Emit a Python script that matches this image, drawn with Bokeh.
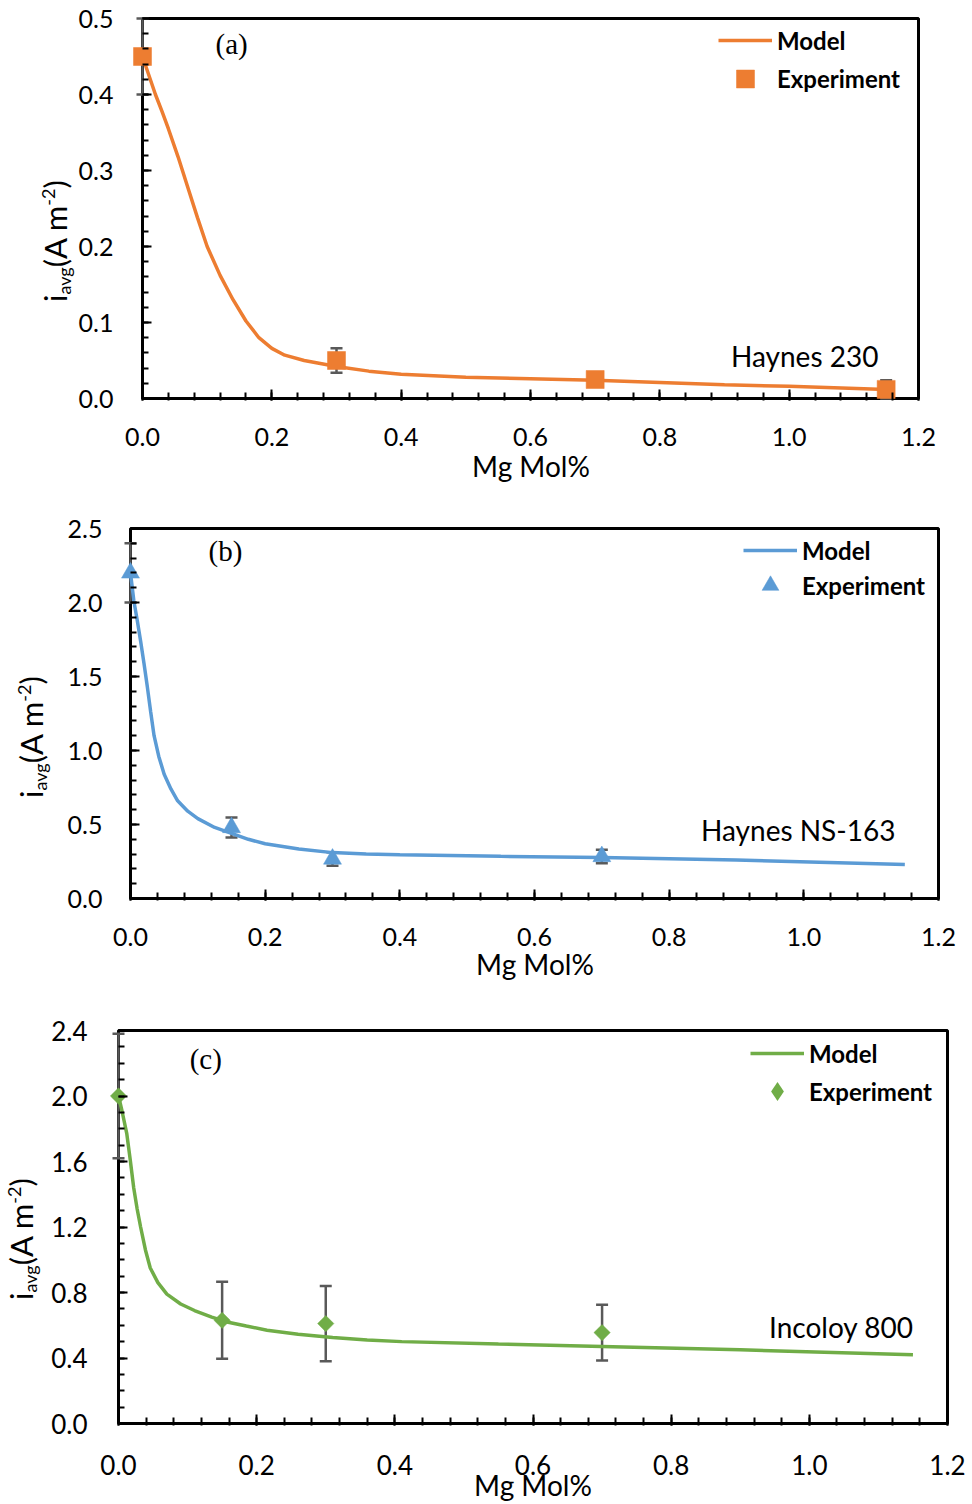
import math
import numpy as np
from bokeh.plotting import figure
from bokeh.models import (Range1d, FixedTicker, NumeralTickFormatter, Whisker, TeeHead,
                          ColumnDataSource, BoxAnnotation, Label, Legend, LegendItem,
                          LinearAxis, CustomJSTickFormatter, Div)
from bokeh.embed import file_html
from bokeh.resources import INLINE

# ---------------- data ----------------
x_ticks = [0.0, 0.2, 0.4, 0.6, 0.8, 1.0, 1.2]
x_minor = [round(v, 2) for v in np.arange(0, 1.2001, 0.04)]

# (a) Haynes 230
a_exp_x = [0.0, 0.3, 0.7, 1.15]
a_exp_y = [0.45, 0.05, 0.025, 0.012]
a_exp_err = [0.05, 0.016, 0.004, 0.012]
a_model_x = [0.0, 0.01, 0.02, 0.03, 0.04, 0.055, 0.07, 0.085, 0.10, 0.12, 0.14, 0.16, 0.18, 0.20,
             0.22, 0.25, 0.30, 0.35, 0.40, 0.50, 0.60, 0.70, 0.80, 0.90, 1.00, 1.15]
a_model_y = [0.45, 0.425, 0.40, 0.378, 0.355, 0.318, 0.278, 0.238, 0.20, 0.162, 0.13, 0.102, 0.08,
             0.066, 0.057, 0.05, 0.042, 0.036, 0.032, 0.028, 0.026, 0.024, 0.021, 0.018, 0.016, 0.012]
a_y_ticks = [0.0, 0.1, 0.2, 0.3, 0.4, 0.5]
a_y_minor = [round(v, 2) for v in np.arange(0, 0.5001, 0.02)]

# (b) Haynes NS-163
b_exp_x = [0.0, 0.15, 0.3, 0.7]
b_exp_y = [2.2, 0.48, 0.267, 0.284]
b_exp_err = [0.2, 0.067, 0.045, 0.046]
b_model_x = [0.0, 0.005, 0.01, 0.015, 0.02, 0.025, 0.03, 0.035, 0.042, 0.05, 0.06, 0.07, 0.085,
             0.10, 0.125, 0.15, 0.175, 0.20, 0.25, 0.30, 0.35, 0.40, 0.55, 0.70, 0.90, 1.15]
b_model_y = [2.2, 2.01, 1.88, 1.74, 1.59, 1.43, 1.26, 1.10, 0.96, 0.84, 0.74, 0.66, 0.59,
             0.54, 0.48, 0.44, 0.40, 0.37, 0.335, 0.31, 0.30, 0.295, 0.285, 0.277, 0.26, 0.23]
b_y_ticks = [0.0, 0.5, 1.0, 1.5, 2.0, 2.5]
b_y_minor = [round(v, 2) for v in np.arange(0, 2.5001, 0.1)]

# (c) Incoloy 800
c_exp_x = [0.0, 0.15, 0.3, 0.7]
c_exp_y = [2.0, 0.63, 0.61, 0.555]
c_exp_err = [0.38, 0.235, 0.23, 0.17]
c_model_x = [0.0, 0.005, 0.012, 0.017, 0.022, 0.027, 0.032, 0.039, 0.046, 0.057, 0.07, 0.09,
             0.11, 0.135, 0.157, 0.185, 0.215, 0.26, 0.31, 0.36, 0.41, 0.55, 0.70, 0.90, 1.15]
c_model_y = [2.0, 1.91, 1.77, 1.61, 1.44, 1.31, 1.20, 1.06, 0.95, 0.86, 0.79, 0.73,
             0.69, 0.65, 0.62, 0.595, 0.57, 0.545, 0.525, 0.51, 0.50, 0.485, 0.47, 0.45, 0.42]
c_y_ticks = [0.0, 0.4, 0.8, 1.2, 1.6, 2.0, 2.4]
c_y_minor = [round(v, 2) for v in np.arange(0, 2.4001, 0.1)]

GRAY = "#595959"
FONT = "Lato"
RIGHT_PAD = 14


def make_panel(cfg):
    top, H = cfg["fig_top"], cfg["H"]
    x0, x1, y0, y1 = cfg["x0"], cfg["x1"], cfg["y0"] - top, cfg["y1"] - top
    ymax = cfg["y_ticks"][-1]
    s = (x1 - x0) / x_ticks[-1]
    sy = (y0 - y1) / ymax
    L = int(round(x0 - 0.02 * s))
    FR = x1 + RIGHT_PAD
    FT = y1 - 2
    FB = y0 + 2
    p = figure(width=972, height=H,
               x_range=Range1d(-(x0 - L) / s, x_ticks[-1] + RIGHT_PAD / s),
               y_range=Range1d(-2 / sy, ymax + 2 / sy),
               output_backend="svg", toolbar_location=None,
               min_border_left=L, min_border_right=972 - FR, min_border_top=FT,
               min_border_bottom=H - FB)
    p.grid.visible = False
    p.outline_line_alpha = 0
    p.background_fill_color = "white"
    p.border_fill_color = "white"

    # bottom axis (ticks inside)
    xa = p.xaxis[0]
    xa.ticker = FixedTicker(ticks=x_ticks, minor_ticks=x_minor)
    xa.formatter = NumeralTickFormatter(format="0.0")
    xa.axis_line_alpha = 0
    xa.major_tick_in, xa.major_tick_out = 11, 0
    xa.minor_tick_in, xa.minor_tick_out = 8, 0
    xa.major_tick_line_width = 2
    xa.minor_tick_line_width = 2
    xa.major_tick_line_color = "black"
    xa.minor_tick_line_color = "black"
    xa.major_label_text_font = FONT
    xa.major_label_text_font_size = cfg["tick_size"]
    xa.major_label_text_color = "black"
    xa.major_label_standoff = cfg["xstandoff"]
    xa.axis_label = "Mg Mol%"
    xa.axis_label_text_font = FONT
    xa.axis_label_text_font_size = "28px"
    xa.axis_label_text_font_style = "normal"
    xa.axis_label_text_color = "black"
    xa.axis_label_standoff = cfg["title_standoff"]

    # left axis: labels only
    ya = p.yaxis[0]
    ya.ticker = FixedTicker(ticks=cfg["y_ticks"], minor_ticks=cfg["y_minor"])
    ya.formatter = NumeralTickFormatter(format="0.0")
    ya.axis_line_alpha = 0
    ya.major_tick_in = ya.major_tick_out = 0
    ya.minor_tick_in = ya.minor_tick_out = 0
    ya.major_label_text_font = FONT
    ya.major_label_text_font_size = cfg["tick_size"]
    ya.major_label_text_color = "black"
    ya.major_label_standoff = L - x0 + cfg["ygap"]

    # tick axis at x = 0 (ticks inside)
    ta = LinearAxis(fixed_location=0,
                    ticker=FixedTicker(ticks=cfg["y_ticks"], minor_ticks=cfg["y_minor"]),
                    formatter=CustomJSTickFormatter(code="return ''"),
                    axis_line_alpha=0, major_tick_in=9, major_tick_out=0,
                    minor_tick_in=6, minor_tick_out=0, major_tick_line_width=2,
                    minor_tick_line_width=2, major_tick_line_color="black",
                    minor_tick_line_color="black", major_label_standoff=0)
    p.add_layout(ta, "left")

    box = BoxAnnotation(left=0, right=x_ticks[-1], bottom=0, top=ymax, fill_alpha=0,
                        line_color="black", line_alpha=1.0, line_width=3, level="underlay")
    p.add_layout(box)

    ex, ey, eerr = cfg["ex"], cfg["ey"], cfg["eerr"]
    src = ColumnDataSource(dict(x=ex, upper=[y + e for y, e in zip(ey, eerr)],
                                lower=[y - e for y, e in zip(ey, eerr)]))
    wh = Whisker(base="x", upper="upper", lower="lower", source=src, dimension="height",
                 line_color=GRAY, line_width=2.5, level="underlay",
                 upper_head=TeeHead(size=12, line_color=GRAY, line_width=2.5),
                 lower_head=TeeHead(size=12, line_color=GRAY, line_width=2.5))
    p.add_layout(wh)

    color = cfg["color"]
    lr = p.line(cfg["mx"], cfg["my"], line_color=color, line_width=3.5)
    if cfg["marker"] == "diamond":
        # legend symbol (hidden under the data markers)
        leg_r = p.scatter(ex, ey, marker="diamond", size=13, fill_color=color,
                          line_color=color, line_width=0)
        p.scatter(ex, ey, marker="square", size=11.5, angle=math.pi / 4,
                  fill_color=color, line_color=color, line_width=0.5)
    else:
        leg_r = p.scatter(ex, ey, marker=cfg["marker"], size=cfg["msize"], fill_color=color,
                          line_color=color, line_width=0.5)

    gx = cfg["leg_x"] - L

    def leg(label, rend, gh, cy):
        lg = Legend(items=[LegendItem(label=label, renderers=[rend])],
                    location=(gx, (FB - (cy - top)) - gh / 2),
                    glyph_width=54, glyph_height=gh, label_height=gh, spacing=0,
                    margin=0, padding=0, label_standoff=5,
                    label_text_font=FONT, label_text_font_style="bold",
                    label_text_font_size="24px", label_text_color="black",
                    label_text_baseline="middle",
                    border_line_alpha=0, background_fill_alpha=0)
        p.add_layout(lg)

    leg("Model", lr, 30, cfg["leg_y1"])
    leg("Experiment", leg_r, cfg["leg_gh"], cfg["leg_y2"])

    p.add_layout(Label(x=cfg["tag_xy"][0], y=cfg["tag_xy"][1], text=cfg["tag"],
                       text_font="Liberation Serif", text_font_size="29px", text_color="black"))
    p.add_layout(Label(x=cfg["name_xy"][0], y=cfg["name_xy"][1], text=cfg["name"],
                       text_font=FONT, text_font_size="28px", text_align="right",
                       text_color="black"))
    return p


def ytitle(base_x, start_y):
    html = ('<div style="font-family:Lato;font-size:31px;line-height:40px;white-space:nowrap;'
            'color:#000;">i<span style="font-size:18px;position:relative;top:4px;">avg</span>'
            '(A m<span style="font-size:18px;position:relative;top:-12px;">-2</span>)</div>')
    return Div(text=html, width=160, height=40,
               styles={"position": "absolute", "left": f"{base_x - 32.0:.1f}px",
                       "top": f"{start_y:.1f}px", "transform": "rotate(-90deg)",
                       "transform-origin": "0 0", "margin": "0", "padding": "0"})


cfg_a = dict(fig_top=0, H=495, x0=142, x1=918, y0=398, y1=18, y_ticks=a_y_ticks,
             y_minor=a_y_minor, mx=a_model_x, my=a_model_y, ex=a_exp_x, ey=a_exp_y,
             eerr=a_exp_err, color="#ED7D31", marker="square", msize=18, leg_gh=45,
             leg_x=718, leg_y1=40, leg_y2=78, tag="(a)", tag_xy=(0.113, 0.445),
             name="Haynes 230", name_xy=(1.138, 0.034), tick_size="25px", ygap=29,
             xstandoff=27, title_standoff=0)
cfg_b = dict(fig_top=495, H=505, x0=130, x1=938, y0=898, y1=528, y_ticks=b_y_ticks,
             y_minor=b_y_minor, mx=b_model_x, my=b_model_y, ex=b_exp_x, ey=b_exp_y,
             eerr=b_exp_err, color="#5B9BD5", marker="triangle", msize=18, leg_gh=42,
             leg_x=743, leg_y1=550, leg_y2=585, tag="(b)", tag_xy=(0.116, 2.243),
             name="Haynes NS-163", name_xy=(1.136, 0.351), tick_size="25px", ygap=28,
             xstandoff=27, title_standoff=-2)
cfg_c = dict(fig_top=1000, H=504, x0=118, x1=947, y0=1423, y1=1030, y_ticks=c_y_ticks,
             y_minor=c_y_minor, mx=c_model_x, my=c_model_y, ex=c_exp_x, ey=c_exp_y,
             eerr=c_exp_err, color="#70AD47", marker="diamond", msize=11.5, leg_gh=48,
             leg_x=750, leg_y1=1053, leg_y2=1091, tag="(c)", tag_xy=(0.103, 2.13),
             name="Incoloy 800", name_xy=(1.151, 0.488), tick_size="26px", ygap=31,
             xstandoff=29, title_standoff=-10)

pa = make_panel(cfg_a)
pb = make_panel(cfg_b)
pc = make_panel(cfg_c)

roots = [pa, pb, pc, ytitle(67, 302), ytitle(43, 798), ytitle(33, 1300)]
open("out.html", "w").write(file_html(roots, INLINE))
